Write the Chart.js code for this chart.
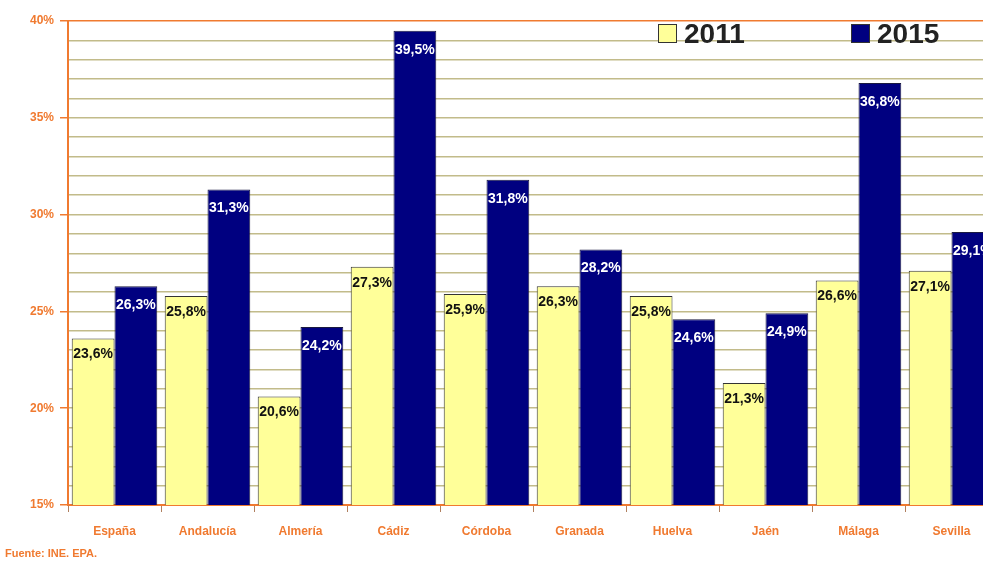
<!DOCTYPE html>
<html>
<head>
<meta charset="utf-8">
<script src="https://cdn.jsdelivr.net/npm/chart.js@4/dist/chart.umd.min.js"></script>
<style>
  html, body { margin: 0; padding: 0; background: #fff; overflow: hidden; }
  #wrap { position: relative; width: 1000px; height: 563px; }
  #source { position: absolute; left: 5px; top: 547px; font: bold 11px Arial, "Liberation Sans", sans-serif; color: #f07a30; }
</style>
</head>
<body>
<div id="wrap">
  <canvas id="paroChart" width="1000" height="563"></canvas>
  <div id="source">Fuente: INE. EPA.</div>
</div>
<script>
  // datos
  const provincias = ['España', 'Andalucía', 'Almería', 'Cádiz', 'Córdoba', 'Granada', 'Huelva', 'Jaén', 'Málaga', 'Sevilla'];
  const anios = ['2011', '2015'];
  const valores2011 = [23.6, 25.8, 20.6, 27.3, 25.9, 26.3, 25.8, 21.3, 26.6, 27.1];
  const valores2015 = [26.3, 31.3, 24.2, 39.5, 31.8, 28.2, 24.6, 24.9, 36.8, 29.1];
  const ticksY = [15, 20, 25, 30, 35, 40];

  const naranja = '#f07a30';
  const amarillo = '#ffff99';
  const azul = '#000080';

  function fmt(v) {
    return v.toFixed(1).replace('.', ',') + '%';
  }

  // etiquetas encima de cada barra
  const etiquetas = {
    id: 'etiquetas',
    afterDatasetsDraw(chart) {
      const ctx = chart.ctx;
      ctx.save();
      ctx.font = 'bold 14px Arial, "Liberation Sans", sans-serif';
      ctx.textAlign = 'center';
      ctx.textBaseline = 'middle';
      chart.data.datasets.forEach((ds, i) => {
        const meta = chart.getDatasetMeta(i);
        meta.data.forEach((bar, j) => {
          ctx.fillStyle = i === 0 ? '#111' : '#fff';
          ctx.fillText(fmt(ds.data[j]), bar.x, bar.y + (i === 0 ? 16 : 19));
        });
      });
      ctx.restore();
    }
  };

  // leyenda dentro del area del grafico
  const leyenda = {
    id: 'leyenda',
    afterDraw(chart) {
      const ctx = chart.ctx;
      const items = [
        { txt: anios[0], color: amarillo, x: 658 },
        { txt: anios[1], color: azul, x: 851 }
      ];
      ctx.save();
      ctx.font = 'bold 28px Arial, "Liberation Sans", sans-serif';
      ctx.textBaseline = 'middle';
      items.forEach(it => {
        ctx.fillStyle = it.color;
        ctx.fillRect(it.x, 24, 18, 18);
        ctx.strokeStyle = '#333';
        ctx.lineWidth = 1;
        ctx.strokeRect(it.x + 0.5, 24.5, 18, 18);
        ctx.fillStyle = '#222';
        ctx.fillText(it.txt, it.x + 26, 35);
      });
      ctx.restore();
    }
  };

  new Chart(document.getElementById('paroChart'), {
    type: 'bar',
    data: {
      labels: provincias,
      datasets: [{
        label: anios[0],
        data: valores2011,
        backgroundColor: amarillo,
        borderColor: '#333',
        borderWidth: 1
      }, {
        label: anios[1],
        data: valores2015,
        backgroundColor: azul,
        borderColor: '#1a1a40',
        borderWidth: 1
      }]
    },
    options: {
      responsive: false,
      animation: false,
      layout: { padding: { top: 21, right: 2, bottom: 0, left: 0 } },
      datasets: {
        bar: { categoryPercentage: 0.92, barPercentage: 1 }
      },
      plugins: {
        legend: { display: false },
        tooltip: { enabled: false }
      },
      scales: {
        x: {
          afterFit: s => { s.height = 58; },
          grid: {
            offset: true,
            drawOnChartArea: false,
            tickLength: 7,
            tickColor: '#b08060'
          },
          border: { color: naranja, width: 2 },
          ticks: {
            color: naranja,
            padding: 12,
            font: { family: 'Arial, "Liberation Sans", sans-serif', size: 12, weight: 'bold' }
          }
        },
        y: {
          min: ticksY[0],
          max: ticksY[ticksY.length - 1],
          afterFit: s => { s.width = 68; },
          grid: {
            color: ctx => ctx.tick && ctx.tick.value === 40 ? naranja : '#c2bb8a',
            lineWidth: 1.5,
            tickLength: 8,
            tickColor: ctx => ctx.tick && ticksY.includes(ctx.tick.value) ? naranja : 'rgba(0,0,0,0)'
          },
          border: { color: naranja, width: 2 },
          ticks: {
            stepSize: 1,
            autoSkip: false,
            color: naranja,
            padding: 6,
            font: { family: 'Arial, "Liberation Sans", sans-serif', size: 12, weight: 'bold' },
            callback: v => ticksY.includes(v) ? v + '%' : ''
          }
        }
      }
    },
    plugins: [etiquetas, leyenda]
  });
</script>
</body>
</html>
